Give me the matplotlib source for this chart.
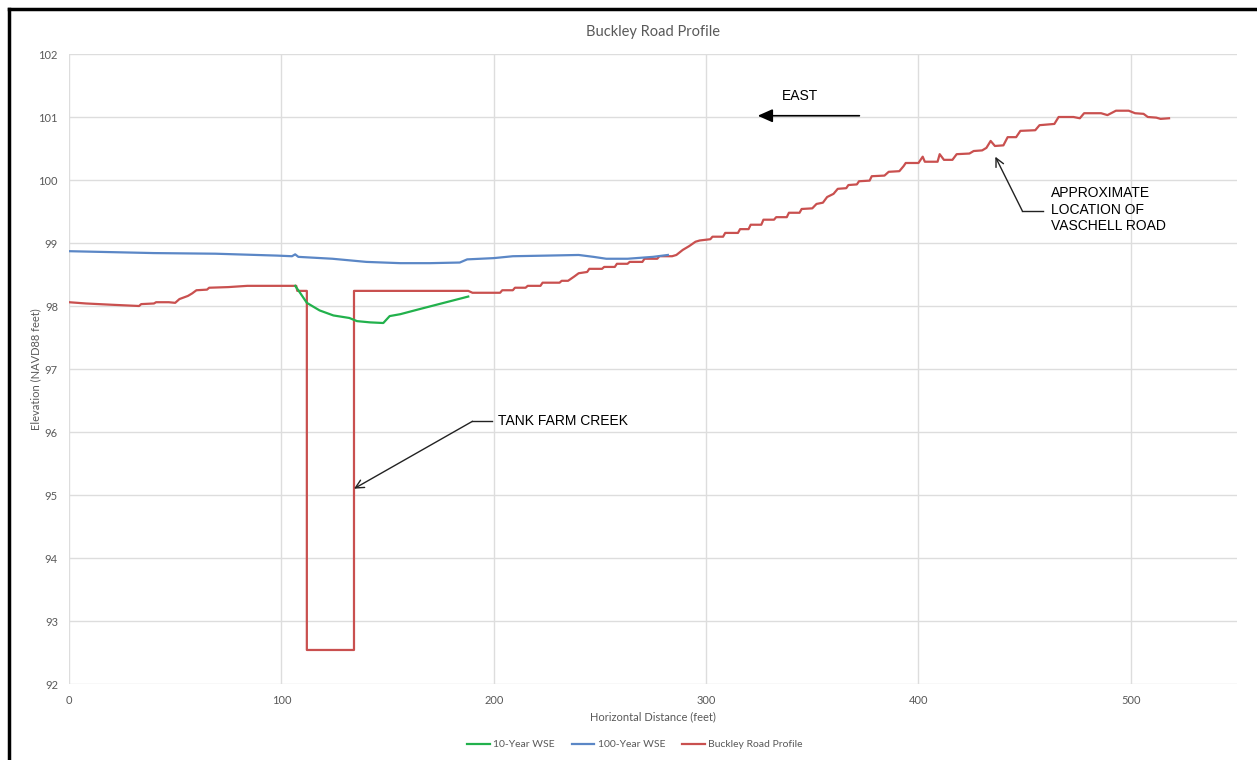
import matplotlib
matplotlib.use("Agg")
import matplotlib.pyplot as plt
from matplotlib.lines import Line2D

# ---- data ----
profile_x = [0, 8, 20, 33, 34, 40, 41, 47, 50, 52, 56, 58, 60, 65, 66, 75, 84, 107, 107.5, 112, 112, 134.2, 134.2,
             188, 190, 203, 204, 209, 210, 215, 216, 222, 223, 231, 232, 235, 238, 240, 244, 245, 251, 252, 257, 258,
             263, 264, 270, 271, 277, 278, 284, 286, 289, 292, 295, 297, 302, 303, 308, 309, 315, 316, 320, 321,
             326, 327, 332, 333, 338, 339, 344, 345, 350, 352, 355, 357, 360, 362, 366, 367, 371, 372, 377, 378,
             384, 386, 391, 393, 394, 400, 402, 403, 409, 410, 412, 416, 418, 424, 426, 430, 432, 434, 436, 440,
             442, 446, 448, 455, 457, 464, 466, 473, 476, 478, 486, 489, 493, 499, 502, 506, 508, 512, 514, 518]
profile_y = [98.06, 98.04, 98.02, 98.0, 98.03, 98.04, 98.06, 98.06, 98.05, 98.11, 98.16, 98.2, 98.25, 98.26, 98.29,
             98.3, 98.32, 98.32, 98.24, 98.24, 92.54, 92.54, 98.24,
             98.24, 98.21, 98.21, 98.25, 98.25, 98.29, 98.29, 98.32, 98.32, 98.37, 98.37, 98.40, 98.40, 98.47,
             98.52, 98.54, 98.59, 98.59, 98.62, 98.62, 98.67, 98.67, 98.70, 98.70, 98.75, 98.75, 98.79, 98.79,
             98.81, 98.89, 98.95, 99.02, 99.04, 99.06, 99.10, 99.10, 99.16, 99.16, 99.22, 99.22, 99.29, 99.29,
             99.37, 99.37, 99.41, 99.41, 99.48, 99.48, 99.54, 99.55, 99.62, 99.64, 99.73, 99.78, 99.86, 99.87,
             99.92, 99.93, 99.98, 99.99, 100.06, 100.07, 100.13, 100.14, 100.22, 100.27, 100.27, 100.37, 100.29,
             100.29, 100.41, 100.32, 100.32, 100.41, 100.42, 100.46, 100.47, 100.51, 100.62, 100.54, 100.55,
             100.68, 100.68, 100.78, 100.79, 100.87, 100.89, 101.0, 101.0, 100.98, 101.06, 101.06, 101.03,
             101.1, 101.1, 101.06, 101.05, 101.0, 100.99, 100.97, 100.98]

wse100_x = [0, 40, 69, 98, 105, 106.5, 108, 124, 140, 156, 170, 184, 187.5, 200, 209, 225, 240, 247, 253, 263,
            275, 282]
wse100_y = [98.87, 98.84, 98.83, 98.80, 98.79, 98.82, 98.78, 98.75, 98.70, 98.68, 98.68, 98.69, 98.74, 98.76,
            98.79, 98.80, 98.81, 98.78, 98.75, 98.75, 98.78, 98.81]

wse10_x = [106.5, 109, 112, 118, 124.5, 132, 135.6, 141.8, 148, 151, 156, 165, 188]
wse10_y = [98.32, 98.20, 98.05, 97.93, 97.85, 97.81, 97.76, 97.74, 97.73, 97.84, 97.87, 97.95, 98.15]

series_labels = ["10-Year WSE", "100-Year WSE", "Buckley Road Profile"]
x_ticks = [0, 100, 200, 300, 400, 500]
y_ticks = [92, 93, 94, 95, 96, 97, 98, 99, 100, 101, 102]

# ---- figure ----
W, H = 1257, 760
fig = plt.figure(figsize=(W / 100, H / 100), dpi=100)
ax = fig.add_axes([69 / W, 1 - 684 / H, (1237 - 69) / W, (684 - 54) / H])

gray = "#595959"
cfont = "Lato"
afont = "Liberation Sans"

l1, = ax.plot(wse10_x, wse10_y, color="#22b14c", lw=1.6, zorder=4)
l2, = ax.plot(wse100_x, wse100_y, color="#5b87c6", lw=1.6, zorder=3)
l3, = ax.plot(profile_x, profile_y, color="#c9504f", lw=1.6, zorder=2)

ax.set_xlim(0, 550)
ax.set_ylim(92, 102)
ax.set_xticks(x_ticks)
ax.set_yticks(y_ticks)
ax.grid(True, color="#dddddd", lw=1)
ax.set_axisbelow(True)
for s in ax.spines.values():
    s.set_visible(False)
ax.tick_params(length=0, labelsize=8, labelcolor=gray, pad=8)
for lab in ax.get_xticklabels() + ax.get_yticklabels():
    lab.set_fontfamily(cfont)

ax.set_title("Buckley Road Profile", fontsize=10.5, color=gray, fontfamily=cfont, pad=13)
ax.set_xlabel("Horizontal Distance (feet)", fontsize=8, color=gray, fontfamily=cfont, labelpad=4)
ax.set_ylabel("Elevation (NAVD88 feet)", fontsize=8, color=gray, fontfamily=cfont, labelpad=-2)

fig.legend([l1, l2, l3], series_labels, loc="center", bbox_to_anchor=(0.505, 0.02), ncol=3,
           frameon=False, prop={"family": cfont, "size": 7.5}, labelcolor=gray,
           handlelength=2.2, handletextpad=0.3, columnspacing=1.6)

# ---- annotations ----
ax.text(344, 101.33, "EAST", fontsize=10, fontfamily=afont, color="black", ha="center", va="center")
ax.annotate("", xy=(323, 101.02), xytext=(373.5, 101.02),
            arrowprops=dict(arrowstyle="-|>,head_length=0.9,head_width=0.4", color="black", lw=1.2))

ax.text(202, 96.17, "TANK FARM CREEK", fontsize=10, fontfamily=afont, color="black", ha="left", va="center")
ax.plot([199, 190], [96.17, 96.17], color="#222222", lw=1)
ax.annotate("", xy=(134.2, 95.1), xytext=(190, 96.17),
            arrowprops=dict(arrowstyle="->,head_length=0.6,head_width=0.3", color="#222222", lw=1,
                            shrinkA=0, shrinkB=0))

ax.text(462.5, 99.53, "APPROXIMATE\nLOCATION OF\nVASCHELL ROAD", fontsize=10, fontfamily=afont,
        color="black", ha="left", va="center", linespacing=1.2)
ax.plot([458.6, 448.9], [99.51, 99.51], color="#222222", lw=1)
ax.annotate("", xy=(436.2, 100.37), xytext=(448.9, 99.51),
            arrowprops=dict(arrowstyle="->,head_length=0.6,head_width=0.3", color="#222222", lw=1,
                            shrinkA=0, shrinkB=0))

# ---- outer frame ----
fig.add_artist(Line2D([9 / W, 9 / W], [0, 1 - 9 / H], color="black", lw=2.5, transform=fig.transFigure))
fig.add_artist(Line2D([9 / W, 1], [1 - 9 / H, 1 - 9 / H], color="black", lw=2.5, transform=fig.transFigure))

fig.savefig("out.png", dpi=100)
